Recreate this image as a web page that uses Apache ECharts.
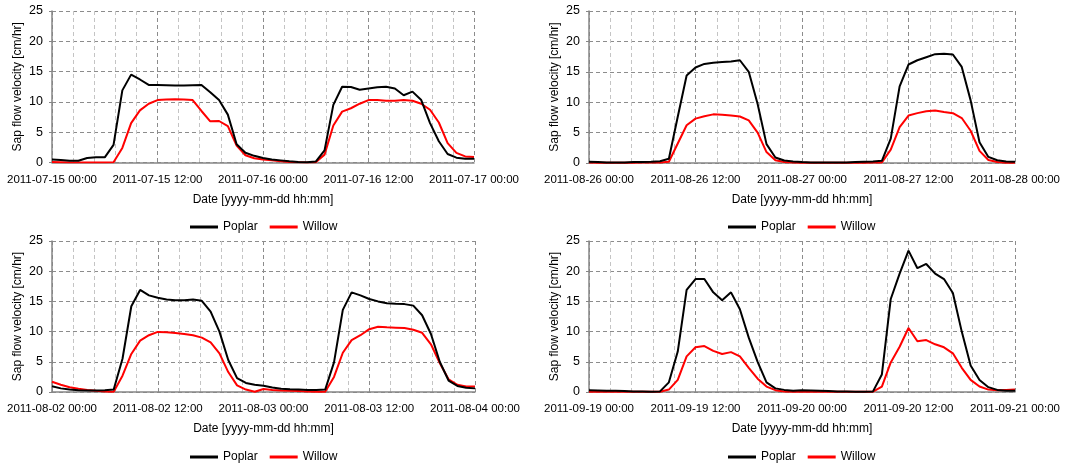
<!DOCTYPE html>
<html><head><meta charset="utf-8">
<script src="https://cdn.jsdelivr.net/npm/echarts@6/dist/echarts.min.js"></script>
<style>html,body{margin:0;padding:0;background:#fff}#c{width:1074px;height:464px}</style>
</head><body><div id="c"></div>
<script>
// hourly samples, hour 0..48 from the first tick
const hours = [0,1,2,3,4,5,6,7,8,9,10,11,12,13,14,15,16,17,18,19,20,21,22,23,24,25,26,27,28,29,30,31,32,33,34,35,36,37,38,39,40,41,42,43,44,45,46,47,48];

const ticksJul = ['2011-07-15 00:00','2011-07-15 12:00','2011-07-16 00:00','2011-07-16 12:00','2011-07-17 00:00'];
const ticksAug26 = ['2011-08-26 00:00','2011-08-26 12:00','2011-08-27 00:00','2011-08-27 12:00','2011-08-28 00:00'];
const ticksAug02 = ['2011-08-02 00:00','2011-08-02 12:00','2011-08-03 00:00','2011-08-03 12:00','2011-08-04 00:00'];
const ticksSep = ['2011-09-19 00:00','2011-09-19 12:00','2011-09-20 00:00','2011-09-20 12:00','2011-09-21 00:00'];
const yTicks = [0,5,10,15,20,25];

const poplarJul = [0.5,0.4,0.3,0.3,0.75,0.85,0.85,2.9,11.9,14.5, 13.7,12.8,12.8,12.75,12.7,12.7,12.75,12.8,11.6,10.3, 7.9,3.0,1.6,1.1,0.75,0.5,0.35,0.2,0.1,0.05, 0.15,2.0,9.5,12.5,12.45,12.0,12.2,12.4,12.5,12.2, 11.1,11.7,10.3,6.5,3.5,1.4,0.8,0.6,0.6];
const willowJul = [0.1,0.05,0,0,0,0,0,0.05,2.4,6.5, 8.6,9.7,10.3,10.4,10.45,10.4,10.3,8.5,6.8,6.85, 6.0,2.8,1.2,0.7,0.5,0.35,0.2,0.1,0.05,0, 0.05,1.3,6.1,8.4,8.95,9.7,10.3,10.3,10.2,10.2, 10.3,10.2,9.7,8.7,6.6,3.2,1.6,1.0,0.9];

const poplarAug26 = [0.2,0.15,0.1,0.1,0.1,0.15,0.15,0.2,0.3,0.7, 7.6,14.4,15.7,16.3,16.5,16.6,16.7,16.9,15.0,9.7, 3.1,0.9,0.4,0.25,0.15,0.1,0.1,0.1,0.1,0.1, 0.15,0.2,0.25,0.35,4.0,12.6,16.2,16.9,17.4,17.9, 17.95,17.85,15.8,10.3,3.4,1.0,0.45,0.25,0.2];
const willowAug26 = [0.1,0.05,0.05,0.05,0.05,0.05,0.1,0.1,0.1,0.2, 3.2,6.2,7.3,7.7,8.0,7.95,7.8,7.65,7.0,5.0, 1.8,0.45,0.15,0.1,0.05,0.05,0.05,0.05,0.05,0.05, 0.05,0.05,0.1,0.1,2.2,5.9,7.8,8.2,8.5,8.65, 8.4,8.2,7.4,5.3,2.0,0.5,0.15,0.05,0.05];

const poplarAug02 = [0.95,0.6,0.4,0.3,0.25,0.25,0.3,0.4,5.5,14.2, 16.9,16.0,15.6,15.3,15.2,15.2,15.3,15.1,13.3,10.0, 5.3,2.3,1.5,1.2,1.05,0.75,0.55,0.45,0.4,0.35, 0.35,0.4,4.9,13.6,16.5,16.0,15.4,15.0,14.7,14.6, 14.55,14.3,12.7,9.6,5.0,1.9,1.0,0.7,0.6];
const willowAug02 = [1.7,1.2,0.8,0.55,0.35,0.2,0.1,0.05,2.7,6.3, 8.5,9.4,9.95,9.9,9.75,9.6,9.4,9.0,8.2,6.4, 3.3,1.1,0.4,0.05,0.5,0.35,0.25,0.2,0.15,0.1, 0.05,0.05,2.5,6.5,8.6,9.4,10.4,10.8,10.7,10.65, 10.6,10.3,9.8,7.9,4.8,2.1,1.2,0.9,0.9];

const poplarSep = [0.3,0.25,0.2,0.2,0.15,0.1,0.1,0.05,0.1,1.6, 6.7,16.9,18.7,18.7,16.5,15.2,16.5,13.7,9.0,5.0, 1.6,0.6,0.35,0.2,0.3,0.25,0.2,0.15,0.1,0.1, 0.05,0.05,0.1,2.9,15.4,19.6,23.4,20.5,21.2,19.6, 18.7,16.4,10.0,4.4,2.0,0.8,0.35,0.2,0.2];
const willowSep = [0.05,0.05,0.05,0.05,0.05,0.05,0.05,0.05,0.05,0.4, 2.0,5.9,7.4,7.6,6.8,6.3,6.6,5.9,4.0,2.2, 0.9,0.3,0.1,0.05,0.05,0.05,0.05,0.05,0.05,0.05, 0.05,0.05,0.05,0.9,4.9,7.5,10.6,8.4,8.6,7.9, 7.4,6.4,4.0,2.0,0.9,0.4,0.3,0.35,0.4];

const seriesNames = ['Poplar','Willow'];
const seriesColors = ['#000000','#ff0000'];

const panels = [
  {ticks: ticksJul, data: [poplarJul, willowJul]},
  {ticks: ticksAug26, data: [poplarAug26, willowAug26]},
  {ticks: ticksAug02, data: [poplarAug02, willowAug02]},
  {ticks: ticksSep, data: [poplarSep, willowSep]}
];
const layout = [
  {left: 52, top: 11, width: 422, height: 151.5, legendLeft: 185, legendTop: 216},
  {left: 589, top: 11, width: 426, height: 152, legendLeft: 723, legendTop: 216},
  {left: 52, top: 241, width: 423, height: 151, legendLeft: 185, legendTop: 446},
  {left: 589, top: 241, width: 426, height: 151, legendLeft: 723, legendTop: 446}
];

const FONT = "'Liberation Sans', Arial, sans-serif";
const option = {
  backgroundColor: '#ffffff',
  animation: false,
  textStyle: {fontFamily: FONT},
  grid: [], xAxis: [], yAxis: [], series: [], legend: []
};

panels.forEach((p, i) => {
  const L = layout[i];
  option.grid.push({left: L.left, top: L.top, width: L.width, height: L.height, containLabel: false});
  option.xAxis.push({
    type: 'value', gridIndex: i, min: 0, max: 48, interval: 12,
    name: 'Date [yyyy-mm-dd hh:mm]', nameLocation: 'middle', nameGap: 31,
    nameTextStyle: {fontFamily: FONT, fontSize: 12, color: '#000'},
    axisLine: {show: true, onZero: false, lineStyle: {color: '#868686', width: 1.5}},
    axisTick: {show: false},
    minorTick: {show: false, splitNumber: 5},
    axisLabel: {fontFamily: FONT, fontSize: 11.5, color: '#000', margin: 11, showMinLabel: true, showMaxLabel: true,
      formatter: v => p.ticks[Math.round(v / 12)]},
    splitLine: {show: true, lineStyle: {color: '#8c8c8c', type: [4, 3], width: 1}},
    minorSplitLine: {show: true, lineStyle: {color: '#c4c4c4', type: [4, 3], width: 1}}
  });
  option.yAxis.push({
    type: 'value', gridIndex: i, min: yTicks[0], max: yTicks[yTicks.length - 1], interval: 5,
    name: 'Sap flow velocity [cm/hr]', nameLocation: 'middle', nameGap: 28,
    nameTextStyle: {fontFamily: FONT, fontSize: 12, color: '#000'},
    axisLine: {show: true, lineStyle: {color: '#868686', width: 1.5}},
    axisTick: {show: true, length: 3, lineStyle: {color: '#868686'}},
    axisLabel: {fontFamily: FONT, fontSize: 12.5, color: '#000', margin: 9},
    splitLine: {show: true, lineStyle: {color: '#8c8c8c', type: [4, 3], width: 1}}
  });
  p.data.forEach((vals, k) => {
    option.series.push({
      name: seriesNames[k], type: 'line', xAxisIndex: i, yAxisIndex: i,
      symbol: 'none', smooth: false,
      lineStyle: {color: seriesColors[k], width: 2},
      itemStyle: {color: seriesColors[k]},
      data: vals.map((v, j) => [hours[j], v]),
      z: 3 + (1 - k)
    });
  });
  option.legend.push({
    left: L.legendLeft, top: L.legendTop, data: seriesNames,
    icon: 'rect', itemWidth: 28, itemHeight: 3, itemGap: 12, selectedMode: false,
    textStyle: {fontFamily: FONT, fontSize: 12, color: '#000'}
  });
});

const chart = echarts.init(document.getElementById('c'), null, {renderer: 'canvas'});
chart.setOption(option);
</script>
</body></html>
